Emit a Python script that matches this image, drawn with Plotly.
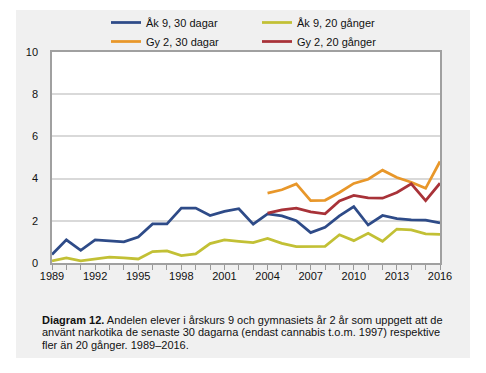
import plotly.graph_objects as go

years = list(range(1989, 2017))
years_gy = list(range(2004, 2017))

ak9_30 = [0.4, 1.1, 0.6, 1.1, 1.05, 1.0, 1.23, 1.85, 1.85, 2.6, 2.6, 2.25, 2.45, 2.57,
          1.84, 2.33, 2.23, 2.0, 1.44, 1.69, 2.23, 2.67, 1.8, 2.25, 2.1, 2.04, 2.03, 1.9]
ak9_20 = [0.1, 0.24, 0.1, 0.2, 0.28, 0.24, 0.19, 0.54, 0.57, 0.35, 0.43, 0.92, 1.09, 1.03,
          0.97, 1.16, 0.93, 0.78, 0.78, 0.79, 1.34, 1.06, 1.41, 1.03, 1.61, 1.57, 1.38, 1.36]
gy2_30 = [3.31, 3.47, 3.75, 2.96, 2.97, 3.34, 3.77, 3.97, 4.4, 4.05, 3.83, 3.54, 4.81]
gy2_20 = [2.36, 2.52, 2.6, 2.42, 2.33, 2.94, 3.2, 3.09, 3.07, 3.34, 3.75, 2.96, 3.78]

names = ["Åk 9, 30 dagar", "Åk 9, 20 gånger", "Gy 2, 30 dagar", "Gy 2, 20 gånger"]
colors = ["#2e4b88", "#c2c035", "#e8972a", "#a83238"]

xtick_vals = list(range(1989, 2017, 3))
ytick_vals = [0, 2, 4, 6, 8, 10]
caption_lines = [
    "<b>Diagram 12.</b> Andelen elever i årskurs 9 och gymnasiets år 2 år som uppgett att de",
    "använt narkotika de senaste 30 dagarna (endast cannabis t.o.m. 1997) respektive",
    "fler än 20 gånger. 1989–2016.",
]

FONT = "Liberation Sans, Arial, sans-serif"

# figure frame = gray panel, placed at page offset (16, 10)
OX, OY = 16, 10
W, H = 454, 348
L, R, T, B = 36, 30, 42, 95
pw, ph = W - L - R, H - T - B

def px(xp):  # page x -> paper x
    return (xp - OX - L) / pw

def py(yp):  # page y -> paper y
    return (OY + H - B - yp) / ph

fig = go.Figure()
series = [(years, ak9_30), (years, ak9_20), (years_gy, gy2_30), (years_gy, gy2_20)]
for (xs, ys), n, c in zip(series, names, colors):
    fig.add_trace(go.Scatter(x=xs, y=ys, mode="lines", name=n,
                             line=dict(color=c, width=2.75)))

annotations = []
for i, line in enumerate(caption_lines):
    annotations.append(dict(text=line, xref="paper", yref="paper", x=px(40), y=py(320 + 12.3 * i),
                            xanchor="left", yanchor="middle", align="left", showarrow=False,
                            font=dict(size=11, family=FONT, color="#111")))

fig.update_layout(
    width=W, height=H,
    margin=dict(l=L, r=R, t=T, b=B, pad=0, autoexpand=False),
    paper_bgcolor="#f0f0f0",
    plot_bgcolor="white",
    font=dict(family=FONT, size=11, color="#111"),
    showlegend=True,
    legend=dict(orientation="h", x=px(106), y=py(8), xanchor="left", yanchor="top",
                entrywidth=106, entrywidthmode="pixels", bgcolor="rgba(0,0,0,0)",
                font=dict(size=11, family=FONT), traceorder="normal", itemwidth=30),
    annotations=annotations,
)

fig.update_xaxes(range=[1989, 2016], tickmode="array", tickvals=xtick_vals,
                 ticks="outside", ticklen=5, tickcolor="#999", tickwidth=1,
                 minor=dict(dtick=1, tick0=1989, ticks="outside", ticklen=5, tickcolor="#999"),
                 showgrid=False, showline=True, linecolor="#a0a0a0", linewidth=1.5, mirror=True,
                 zeroline=False, tickfont=dict(size=11), ticklabelstandoff=-3)
fig.update_yaxes(range=[0, 10], tickmode="array", tickvals=ytick_vals,
                 showgrid=True, gridcolor="#d9d9d9", gridwidth=1.5,
                 showline=True, linecolor="#a0a0a0", linewidth=1.5, mirror=True,
                 zeroline=False, ticks="", ticklabelstandoff=10, tickfont=dict(size=11))

fig.write_html(
    "out.html",
    post_script="document.body.style.margin='%dpx 0 0 %dpx';document.body.style.background='white';" % (OY, OX),
)
